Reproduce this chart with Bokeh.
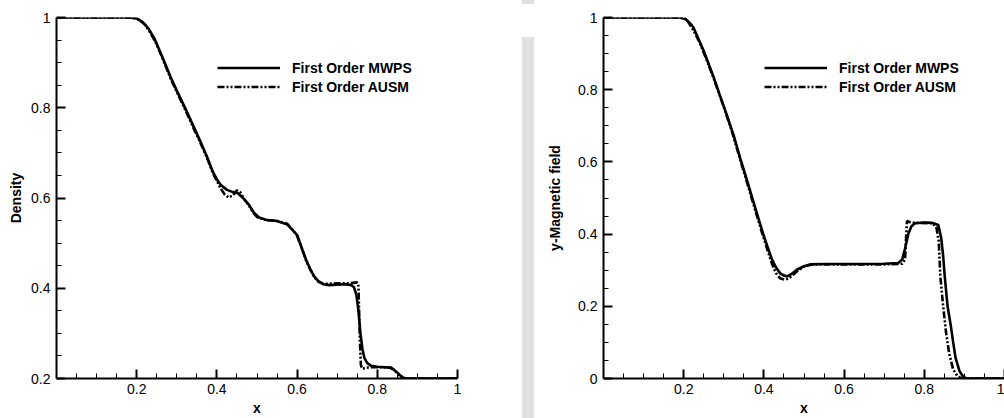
from bokeh.plotting import figure
from bokeh.models import Range1d, FixedTicker, Legend, LegendItem, Div
from bokeh.layouts import row
from bokeh.embed import file_html
from bokeh.resources import INLINE

# ---------------- data ----------------
# Left panel: Density
rho_mwps_x = [0.0, 0.18, 0.20, 0.215, 0.23, 0.245, 0.265, 0.284, 0.30, 0.322, 0.34, 0.359, 0.375,
              0.389, 0.40, 0.41, 0.425, 0.44, 0.452, 0.465, 0.479, 0.492, 0.505, 0.525, 0.55, 0.576,
              0.59, 0.60, 0.613, 0.623, 0.633, 0.643, 0.653, 0.665, 0.68, 0.70, 0.72, 0.735, 0.742,
              0.748, 0.753, 0.758, 0.763, 0.768, 0.775, 0.785, 0.80, 0.83, 0.842, 0.85, 0.857, 0.863,
              0.87, 1.0]
rho_mwps_y = [1.0, 1.0, 0.998, 0.99, 0.975, 0.952, 0.91, 0.869, 0.838, 0.797, 0.762, 0.725, 0.692,
              0.660, 0.641, 0.629, 0.618, 0.613, 0.611, 0.600, 0.586, 0.568, 0.557, 0.551, 0.549, 0.541,
              0.528, 0.518, 0.486, 0.462, 0.442, 0.426, 0.416, 0.409, 0.407, 0.408, 0.409, 0.407, 0.402,
              0.385, 0.35, 0.30, 0.265, 0.245, 0.234, 0.228, 0.226, 0.224, 0.219, 0.213, 0.207, 0.203,
              0.2, 0.2]

rho_ausm_x = [0.0, 0.19, 0.205, 0.22, 0.235, 0.25, 0.265, 0.284, 0.30, 0.322, 0.34, 0.359, 0.375,
              0.39, 0.40, 0.41, 0.42, 0.43, 0.44, 0.45, 0.458, 0.468, 0.48, 0.49, 0.50, 0.52, 0.55,
              0.575, 0.588, 0.60, 0.612, 0.622, 0.632, 0.642, 0.652, 0.665, 0.68, 0.70, 0.73, 0.75,
              0.753, 0.756, 0.759, 0.762, 0.77, 0.78, 0.82, 0.835, 0.845, 0.855, 0.862, 0.87, 1.0]
rho_ausm_y = [1.0, 1.0, 0.995, 0.985, 0.965, 0.94, 0.908, 0.866, 0.835, 0.794, 0.758, 0.722, 0.690,
              0.655, 0.638, 0.620, 0.607, 0.601, 0.606, 0.617, 0.613, 0.598, 0.583, 0.568, 0.558, 0.552,
              0.549, 0.543, 0.530, 0.516, 0.488, 0.462, 0.443, 0.426, 0.415, 0.410, 0.410, 0.411, 0.411,
              0.413, 0.405, 0.30, 0.23, 0.222, 0.223, 0.225, 0.225, 0.224, 0.217, 0.207, 0.201, 0.2, 0.2]

# Right panel: y-Magnetic field
by_mwps_x = [0.0, 0.19, 0.205, 0.215, 0.224, 0.235, 0.249, 0.274, 0.29, 0.308, 0.325, 0.341, 0.357,
             0.373, 0.386, 0.398, 0.41, 0.42, 0.43, 0.44, 0.45, 0.458, 0.468, 0.483, 0.50, 0.515, 0.55,
             0.60, 0.65, 0.70, 0.735, 0.745, 0.752, 0.76, 0.768, 0.777, 0.80, 0.82, 0.835, 0.842, 0.847,
             0.851, 0.858, 0.866, 0.872, 0.878, 0.888, 0.897, 0.905, 1.0]
by_mwps_y = [1.0, 1.0, 0.995, 0.985, 0.973, 0.945, 0.910, 0.837, 0.785, 0.728, 0.672, 0.610, 0.552,
             0.493, 0.445, 0.401, 0.362, 0.330, 0.308, 0.292, 0.285, 0.283, 0.289, 0.302, 0.311, 0.316,
             0.317, 0.317, 0.317, 0.318, 0.320, 0.33, 0.36, 0.40, 0.422, 0.430, 0.432, 0.431, 0.425,
             0.39, 0.34, 0.283, 0.20, 0.147, 0.10, 0.057, 0.02, 0.005, 0.0, 0.0]

by_ausm_x = [0.0, 0.2, 0.21, 0.224, 0.24, 0.26, 0.28, 0.30, 0.32, 0.34, 0.36, 0.38, 0.395, 0.41,
             0.42, 0.43, 0.44, 0.452, 0.462, 0.472, 0.485, 0.50, 0.52, 0.60, 0.70, 0.745, 0.752, 0.755,
             0.757, 0.765, 0.78, 0.82, 0.83, 0.836, 0.840, 0.847, 0.854, 0.862, 0.872, 0.882, 0.892, 1.0]
by_ausm_y = [1.0, 1.0, 0.99, 0.965, 0.93, 0.875, 0.815, 0.752, 0.685, 0.61, 0.535, 0.46, 0.405, 0.352,
             0.318, 0.292, 0.278, 0.274, 0.277, 0.287, 0.299, 0.310, 0.316, 0.316, 0.316, 0.318, 0.33,
             0.40, 0.436, 0.433, 0.431, 0.430, 0.42, 0.38, 0.283, 0.20, 0.13, 0.07, 0.025, 0.008, 0.0, 0.0]

x_ticks = [0.2, 0.4, 0.6, 0.8, 1.0]
x_minor = [0.05, 0.1, 0.15, 0.25, 0.3, 0.35, 0.45, 0.5, 0.55, 0.65, 0.7, 0.75, 0.85, 0.9, 0.95]
rho_ticks = [0.2, 0.4, 0.6, 0.8, 1.0]
rho_minor = [0.25, 0.3, 0.35, 0.45, 0.5, 0.55, 0.65, 0.7, 0.75, 0.85, 0.9, 0.95]
by_ticks = [0.0, 0.2, 0.4, 0.6, 0.8, 1.0]
by_minor = [0.05, 0.1, 0.15, 0.25, 0.3, 0.35, 0.45, 0.5, 0.55, 0.65, 0.7, 0.75, 0.85, 0.9, 0.95]

labels = ["First Order MWPS", "First Order AUSM"]

FONT = "Liberation Sans"
DASH = "7 2 2 2 2 2"


def style_axes(p, yticks, yminor, ylabel_standoff):
    p.xaxis.ticker = FixedTicker(ticks=x_ticks, minor_ticks=x_minor)
    p.yaxis.ticker = FixedTicker(ticks=yticks, minor_ticks=yminor)
    for ax in (p.xaxis[0], p.yaxis[0]):
        ax.axis_line_width = 2
        ax.axis_line_color = "black"
        ax.major_tick_in = 9
        ax.major_tick_out = 0
        ax.minor_tick_in = 5
        ax.minor_tick_out = 0
        ax.major_tick_line_width = 2
        ax.minor_tick_line_width = 1
        ax.major_tick_line_color = "black"
        ax.minor_tick_line_color = "black"
        ax.major_label_text_font = FONT
        ax.major_label_text_font_size = "14px"
        ax.major_label_text_color = "black"
        ax.axis_label_text_font = FONT
        ax.axis_label_text_font_size = "14px"
        ax.axis_label_text_font_style = "bold"
        ax.axis_label_text_color = "black"
        ax.major_label_overrides = {0: "0", 1: "1"}
    p.xaxis.major_label_standoff = 5
    p.xaxis.axis_label_standoff = 3
    p.yaxis.major_label_standoff = 6
    p.yaxis.axis_label_standoff = ylabel_standoff
    p.xgrid.visible = False
    p.ygrid.visible = False
    p.outline_line_color = None
    p.background_fill_color = "white"
    p.border_fill_color = "white"


def add_lines_and_legend(p, x1, y1, x2, y2):
    r1 = p.line(x1, y1, line_color="black", line_width=2.6)
    r2 = p.line(x2, y2, line_color="black", line_width=2.6, line_dash=DASH)
    leg = Legend(items=[LegendItem(label=labels[0], renderers=[r1]),
                        LegendItem(label=labels[1], renderers=[r2])],
                 location=(161, 282), padding=0, margin=0, spacing=0,
                 glyph_width=63, glyph_height=19, label_height=19,
                 label_standoff=12, border_line_alpha=0, background_fill_alpha=0,
                 label_text_font=FONT, label_text_font_size="14px",
                 label_text_font_style="bold", label_text_color="black")
    p.add_layout(leg, "center")


p1 = figure(width=522, height=418, output_backend="svg", toolbar_location=None,
            x_range=Range1d(0, 1), y_range=Range1d(0.2, 1.0),
            min_border_left=56, min_border_right=65, min_border_top=17, min_border_bottom=34,
            x_axis_label="x", y_axis_label="Density")
style_axes(p1, rho_ticks, rho_minor, 4)
add_lines_and_legend(p1, rho_mwps_x, rho_mwps_y, rho_ausm_x, rho_ausm_y)

p2 = figure(width=470, height=418, output_backend="svg", toolbar_location=None,
            x_range=Range1d(0, 1), y_range=Range1d(0.0, 1.0),
            min_border_left=69, min_border_right=0, min_border_top=17, min_border_bottom=34,
            x_axis_label="x", y_axis_label="y-Magnetic field")
style_axes(p2, by_ticks, by_minor, 12)
add_lines_and_legend(p2, by_mwps_x, by_mwps_y, by_ausm_x, by_ausm_y)

bar = Div(text="", width=12, height=418, margin=0,
          styles={"background": "linear-gradient(to bottom, #e1e1e1 0px, #e1e1e1 4px, #ffffff 4px, "
                                "#ffffff 37px, #e1e1e1 37px, #e1e1e1 100%)"})

layout = row(p1, bar, p2, spacing=0)

open("out.html", "w").write(file_html(layout, INLINE))
